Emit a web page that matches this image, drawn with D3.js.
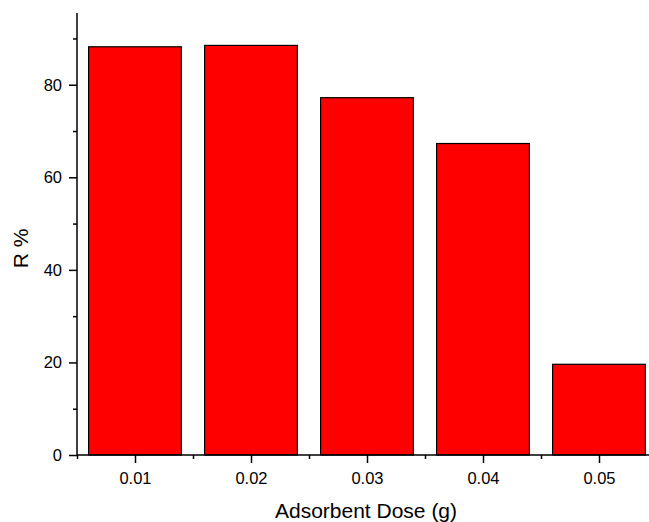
<!DOCTYPE html>
<html lang="en">
<head>
<meta charset="utf-8">
<title>R % vs adsorbent dose</title>
<script src="https://cdn.jsdelivr.net/npm/d3@7"></script>
<style>
  body { margin: 0; background: #fff; }
  text { font-family: "Liberation Sans", Arial, sans-serif; }
</style>
</head>
<body>
<script>
var doses = [0.01, 0.02, 0.03, 0.04, 0.05];
var removal = [88.2, 88.5, 77.2, 67.3, 19.6];
var xTicks = ["0.01", "0.02", "0.03", "0.04", "0.05"];
var yTicks = [0, 20, 40, 60, 80];

var w = 649, h = 522;
var plotLeft = 77, plotBottom = 455, plotTop = 13;

var svg = d3.select("body").append("svg")
  .attr("width", w)
  .attr("height", h);

var xScale = d3.scaleLinear().domain([0.005, 0.055]).range([plotLeft, plotLeft + 580]);
var yScale = d3.scaleLinear().domain([0, 95.5]).range([plotBottom, plotTop]);
var barW = xScale(0.018) - xScale(0.01);

// bars
svg.selectAll("rect.bar")
  .data(doses)
  .enter()
  .append("rect")
  .attr("class", "bar")
  .attr("x", function(d) { return xScale(d) - barW / 2; })
  .attr("y", function(d, i) { return yScale(removal[i]); })
  .attr("width", barW)
  .attr("height", function(d, i) { return plotBottom - yScale(removal[i]); })
  .attr("fill", "#ff0000")
  .attr("stroke", "#000")
  .attr("stroke-width", 1.2);

// y axis
var yAxis = d3.axisLeft(yScale).tickValues(yTicks).tickSize(8).tickPadding(7).tickFormat(d3.format("d"));
var gy = svg.append("g").attr("transform", "translate(" + plotLeft + ",0)").call(yAxis);
gy.selectAll("text").attr("font-size", 16.5).attr("fill", "#000");
gy.selectAll("line").attr("stroke-width", 1.5);
gy.select(".domain").attr("d", "M0," + plotTop + "V" + plotBottom).attr("stroke-width", 1.5);
var gyMinor = svg.append("g").attr("transform", "translate(" + plotLeft + ",0)")
  .call(d3.axisLeft(yScale).tickValues([10, 30, 50, 70, 90]).tickSize(4).tickFormat(""));
gyMinor.select(".domain").remove();
gyMinor.selectAll("line").attr("stroke-width", 1.5);

// x axis
var xAxis = d3.axisBottom(xScale).tickValues(doses).tickSize(8).tickPadding(9)
  .tickFormat(function(d, i) { return xTicks[i]; });
var gx = svg.append("g").attr("transform", "translate(0," + plotBottom + ")").call(xAxis);
gx.selectAll("text").attr("font-size", 16.5).attr("fill", "#000");
gx.selectAll("line").attr("stroke-width", 1.5);
gx.select(".domain").attr("d", "M" + plotLeft + ",0H" + w).attr("stroke-width", 1.5);
var gxMinor = svg.append("g").attr("transform", "translate(0," + plotBottom + ")")
  .call(d3.axisBottom(xScale).tickValues([0.005, 0.015, 0.025, 0.035, 0.045]).tickSize(4).tickFormat(""));
gxMinor.select(".domain").remove();
gxMinor.selectAll("line").attr("stroke-width", 1.5);

// axis titles
svg.append("text")
  .attr("x", 366)
  .attr("y", 518)
  .attr("text-anchor", "middle")
  .attr("font-size", 21)
  .text("Adsorbent Dose (g)");

svg.append("text")
  .attr("transform", "translate(28,248.5) rotate(-90)")
  .attr("text-anchor", "middle")
  .attr("font-size", 21)
  .text("R %");
</script>
</body>
</html>
